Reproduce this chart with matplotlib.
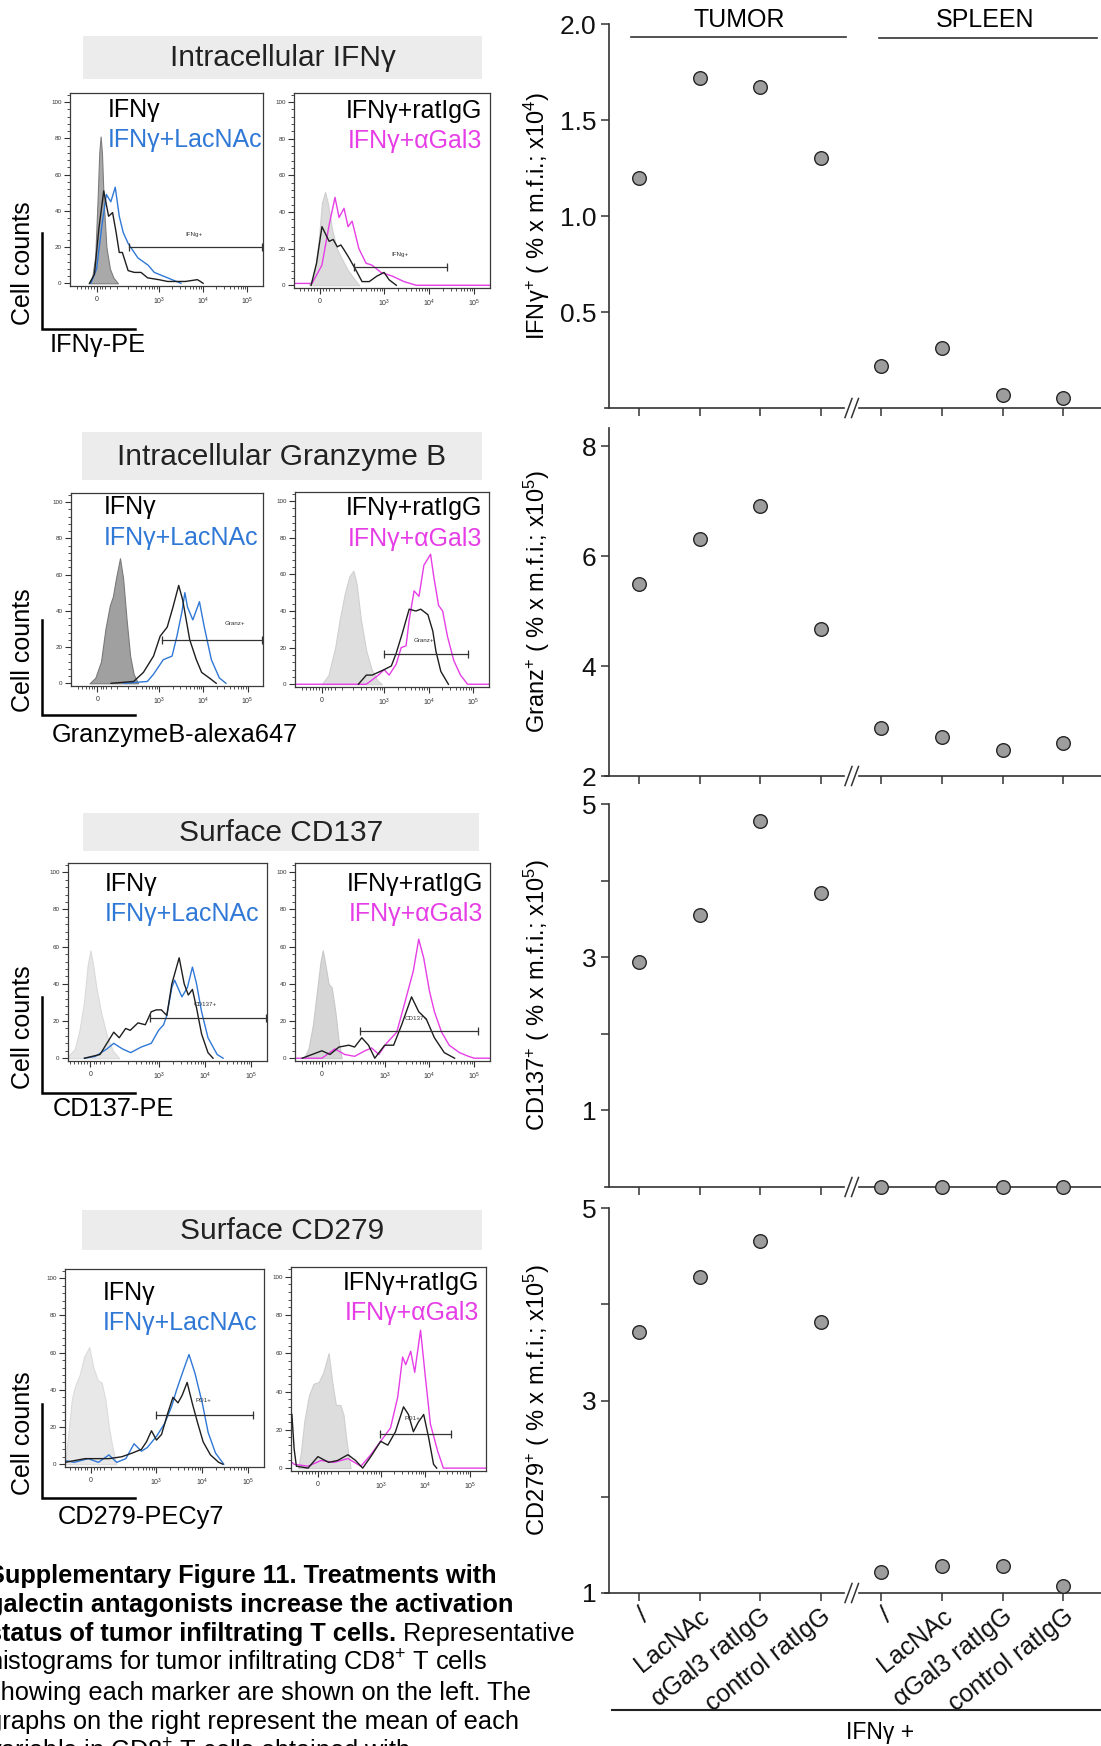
import matplotlib
matplotlib.use('Agg')
import matplotlib.pyplot as plt
from matplotlib.lines import Line2D
from matplotlib.patches import Rectangle
from matplotlib.ticker import MultipleLocator, FixedLocator
import numpy as np

plt.rcParams['font.family'] = ['Liberation Sans', 'DejaVu Sans']
plt.rcParams['mathtext.fontset'] = 'custom'
plt.rcParams['mathtext.rm'] = 'Liberation Sans'
plt.rcParams['mathtext.it'] = 'Liberation Sans:italic'
plt.rcParams['mathtext.bf'] = 'Liberation Sans:bold'

# ------------------------------------------------------------------ data
conditions = ['/', 'LacNAc', 'αGal3 ratIgG', 'control ratIgG']
groups = ['TUMOR', 'SPLEEN']

tumor_ifng = [1.20, 1.72, 1.67, 1.30]
spleen_ifng = [0.22, 0.31, 0.07, 0.05]
tumor_granz = [5.50, 6.31, 6.91, 4.68]
spleen_granz = [2.87, 2.71, 2.47, 2.60]
tumor_cd137 = [2.94, 3.55, 4.78, 3.84]
spleen_cd137 = [0.0, 0.0, 0.0, 0.0]
tumor_cd279 = [3.71, 4.28, 4.66, 3.82]
spleen_cd279 = [1.22, 1.28, 1.28, 1.07]

# histogram curves: u = display position (10^3 -> 3, 10^4 -> 4, 10^5 -> 5), c = cell counts
ifng_a_iso_u = [1.42, 1.50, 1.57, 1.62, 1.66, 1.69, 1.72, 1.76, 1.82, 1.90, 1.98, 2.08]
ifng_a_iso_c = [0, 3, 15, 45, 72, 81, 72, 45, 20, 8, 3, 0]
ifng_a_ifng_u = [1.44, 1.55, 1.65, 1.76, 1.87, 1.96, 2.04, 2.11, 2.18, 2.31, 2.45, 2.60, 2.75, 3.0, 3.2, 3.6, 3.87, 3.94, 4.0]
ifng_a_ifng_c = [0, 5, 30, 51, 37, 39, 28, 17, 17, 7, 6, 6, 3, 2, 1, 1, 2, 1, 0]
ifng_a_lac_u = [1.47, 1.60, 1.72, 1.82, 1.92, 2.02, 2.11, 2.20, 2.31, 2.53, 2.76, 2.90, 3.2, 3.5]
ifng_a_lac_c = [0, 8, 32, 49, 45, 53, 37, 28, 22, 14, 10, 6, 3, 0]

ifng_b_iso_u = [1.33, 1.45, 1.55, 1.62, 1.69, 1.75, 1.85, 1.95, 2.05, 2.2, 2.35, 2.45]
ifng_b_iso_c = [0, 5, 25, 45, 51, 45, 30, 20, 15, 8, 3, 0]
ifng_b_rat_u = [1.38, 1.50, 1.62, 1.70, 1.78, 1.87, 1.96, 2.04, 2.12, 2.22, 2.38, 2.51, 2.67, 2.84, 3.0, 3.11, 3.27]
ifng_b_rat_c = [0, 12, 32, 28, 24, 25, 21, 22, 19, 15, 8, 2, 2, 5, 7, 3, 0]
ifng_b_gal_u = [1.0, 1.40, 1.62, 1.78, 1.91, 2.0, 2.11, 2.2, 2.29, 2.44, 2.6, 2.73, 2.93, 3.18, 3.44, 3.71, 5.4]
ifng_b_gal_c = [1, 1, 11, 33, 48, 37, 42, 32, 35, 20, 12, 11, 7, 5, 2, 0, 0]

granz_a_iso_u = [1.42, 1.55, 1.68, 1.78, 1.88, 1.95, 2.02, 2.11, 2.18, 2.26, 2.34, 2.42, 2.52]
granz_a_iso_c = [0, 3, 12, 30, 43, 48, 58, 69, 58, 35, 15, 5, 0]
granz_a_ifng_u = [1.91, 2.42, 2.64, 2.87, 3.02, 3.18, 3.31, 3.44, 3.53, 3.69, 3.84, 3.96, 4.13, 4.29]
granz_a_ifng_c = [0, 1, 6, 15, 26, 31, 42, 54, 46, 24, 13, 6, 3, 0]
granz_a_lac_u = [2.2, 2.73, 2.87, 3.09, 3.29, 3.40, 3.51, 3.58, 3.64, 3.76, 3.91, 4.02, 4.18, 4.36, 4.51]
granz_a_lac_c = [0, 1, 5, 13, 15, 26, 39, 50, 42, 35, 45, 31, 13, 3, 0]

granz_b_iso_u = [1.6, 1.75, 1.9, 2.0, 2.12, 2.22, 2.31, 2.38, 2.48, 2.6, 2.72, 2.85, 2.95]
granz_b_iso_c = [0, 5, 20, 35, 50, 59, 62, 55, 35, 18, 8, 2, 0]
granz_b_rat_u = [2.42, 2.6, 2.73, 3.0, 3.16, 3.27, 3.42, 3.56, 3.71, 3.82, 3.98, 4.09, 4.16, 4.27, 4.44]
granz_b_rat_c = [0, 5, 5, 8, 10, 17, 29, 41, 40, 41, 38, 29, 18, 7, 0]
granz_b_gal_u = [1.0, 2.6, 2.87, 3.0, 3.11, 3.27, 3.38, 3.49, 3.56, 3.67, 3.78, 3.89, 4.04, 4.11, 4.22, 4.31, 4.42, 4.56, 4.71, 4.87, 5.4]
granz_b_gal_c = [0, 0, 5, 8, 5, 11, 20, 21, 35, 51, 48, 65, 71, 59, 43, 40, 26, 13, 5, 0, 0]

cd137_a_iso_u = [1.0, 1.15, 1.25, 1.35, 1.43, 1.49, 1.55, 1.62, 1.72, 1.85, 1.98, 2.12]
cd137_a_iso_c = [1, 5, 15, 30, 50, 58, 50, 38, 25, 12, 4, 0]
cd137_a_ifng_u = [1.36, 1.7, 1.85, 2.0, 2.12, 2.26, 2.36, 2.53, 2.69, 2.82, 2.93, 3.04, 3.16, 3.27, 3.43, 3.54, 3.63, 3.72, 3.81, 3.92, 4.06, 4.17]
cd137_a_ifng_c = [0, 2, 8, 14, 11, 16, 15, 19, 18, 25, 26, 26, 23, 40, 54, 40, 34, 37, 27, 13, 3, 0]
cd137_a_lac_u = [1.36, 1.6, 1.85, 2.0, 2.19, 2.37, 2.6, 2.82, 2.98, 3.09, 3.16, 3.27, 3.33, 3.49, 3.61, 3.72, 3.81, 3.92, 4.06, 4.26, 4.39]
cd137_a_lac_c = [0, 1, 5, 8, 5, 3, 6, 8, 15, 18, 23, 38, 42, 33, 38, 49, 40, 25, 11, 2, 0]

cd137_b_iso_u = [1.2, 1.3, 1.4, 1.5, 1.57, 1.62, 1.68, 1.75, 1.82, 1.9, 1.97, 2.04]
cd137_b_iso_c = [0, 5, 18, 38, 52, 58, 50, 40, 38, 25, 10, 0]
cd137_b_rat_u = [1.16, 1.38, 1.6, 1.78, 1.98, 2.2, 2.33, 2.49, 2.64, 2.78, 3.0, 3.2, 3.38, 3.6, 3.76, 3.93, 4.11, 4.33, 4.56]
cd137_b_rat_c = [0, 2, 4, 2, 6, 7, 6, 11, 7, 0, 7, 7, 18, 33, 25, 21, 11, 3, 0]
cd137_b_gal_u = [1.0, 1.6, 1.89, 2.11, 2.33, 2.56, 2.71, 2.87, 3.04, 3.27, 3.44, 3.64, 3.76, 3.87, 4.0, 4.11, 4.27, 4.44, 4.67, 4.87, 5.0, 5.4]
cd137_b_gal_c = [0, 0, 5, 2, 1, 4, 5.5, 2, 8, 14, 29, 47, 64, 54, 36, 25, 14, 7, 3, 1, 0, 0]

cd279_a_iso_u = [1.0, 1.08, 1.15, 1.22, 1.32, 1.42, 1.53, 1.62, 1.72, 1.80, 1.88, 1.96, 2.03, 2.12]
cd279_a_iso_c = [0, 18, 35, 42, 48, 58, 63, 52, 45, 44, 35, 20, 10, 0]
cd279_a_ifng_u = [1.0, 1.44, 1.96, 2.24, 2.47, 2.67, 2.78, 2.89, 3.0, 3.11, 3.24, 3.36, 3.47, 3.56, 3.67, 3.78, 3.89, 4.02, 4.18, 4.36, 4.45]
cd279_a_ifng_c = [1, 3, 3, 4, 6, 8, 12, 18, 13, 16, 27, 36, 33, 37, 44, 33, 23, 12, 5, 1, 0]
cd279_a_lac_u = [1.0, 1.2, 1.51, 1.73, 1.96, 2.13, 2.33, 2.51, 2.67, 2.8, 3.0, 3.18, 3.33, 3.44, 3.58, 3.71, 3.84, 4.0, 4.13, 4.29, 4.47]
cd279_a_lac_c = [2, 1, 3, 1, 5, 1, 3, 11, 7, 9, 15, 22, 31, 40, 50, 59, 49, 33, 17, 6, 0]

cd279_b_iso_u = [1.16, 1.22, 1.3, 1.4, 1.5, 1.62, 1.72, 1.84, 1.92, 2.0, 2.1, 2.17, 2.25, 2.33]
cd279_b_iso_c = [0, 8, 25, 38, 44, 45, 50, 60, 45, 33, 33, 28, 12, 0]
cd279_b_rat_u = [1.02, 1.07, 1.12, 1.38, 1.6, 1.84, 2.04, 2.27, 2.44, 2.6, 2.78, 3.0, 3.16, 3.33, 3.51, 3.62, 3.73, 3.84, 3.96, 4.07, 4.18, 4.25]
cd279_b_rat_c = [28, 10, 1, 0, 6, 3, 4, 7, 4, 0, 6, 14, 12, 19, 32, 28, 19, 24, 28, 16, 2, 0]
cd279_b_gal_u = [1.02, 1.07, 1.38, 1.67, 1.96, 2.27, 2.56, 2.78, 3.0, 3.22, 3.38, 3.49, 3.56, 3.67, 3.76, 3.89, 4.0, 4.11, 4.27, 4.4, 5.4]
cd279_b_gal_c = [3, 2, 1, 4, 3, 5, 1, 7, 14, 21, 37, 58, 54, 61, 50, 72, 47, 23, 9, 0, 0]

# gates: (start, end, level) and gate label positions
gate_names = ['IFNg+', 'Granz+', 'CD137+', 'PD1+']
gates_left = [(2.33, 5.33, 20), (3.07, 5.33, 24), (2.80, 5.33, 21.5), (3.00, 5.11, 26.5)]
gates_right = [(2.33, 4.40, 10), (3.00, 4.89, 16.5), (2.44, 5.09, 14.6), (2.98, 4.58, 18)]
gate_lbl_left = [(3.80, 27), (4.71, 33), (4.00, 29), (4.02, 34)]
gate_lbl_right = [(3.36, 17), (3.89, 24), (3.71, 21.5), (3.71, 26)]

hist_titles = ['Intracellular IFNγ', 'Intracellular Granzyme B', 'Surface CD137', 'Surface CD279']
hist_xlabels = ['IFNγ-PE', 'GranzymeB-alexa647', 'CD137-PE', 'CD279-PECy7']
legend_left = ['IFNγ', 'IFNγ+LacNAc']
legend_right = ['IFNγ+ratIgG', 'IFNγ+αGal3']
xtick_pos = [3, 4, 5]
xtick_lbl = ['$10^{3}$', '$10^{4}$', '$10^{5}$']
ytick_pos = [0, 20, 40, 60, 80, 100]

# ------------------------------------------------------------------ figure
W, H = 1101, 1746
fig = plt.figure(figsize=(W / 100, H / 100), dpi=100)


def px_axes(x0, y0, x1, y1):
    return fig.add_axes([x0 / W, 1 - y1 / H, (x1 - x0) / W, (y1 - y0) / H])


def ftext(x, y, s, **kw):
    return fig.text(x / W, 1 - y / H, s, **kw)


def fline(xs, ys, **kw):
    fig.add_artist(Line2D([x / W for x in xs], [1 - y / H for y in ys], **kw))


BLACK = '#1e1e1e'
BLUE = '#2f78d6'
MAG = '#e63ee6'

curves = [
    [(ifng_a_iso_u, ifng_a_iso_c), (ifng_a_ifng_u, ifng_a_ifng_c), (ifng_a_lac_u, ifng_a_lac_c),
     (ifng_b_iso_u, ifng_b_iso_c), (ifng_b_rat_u, ifng_b_rat_c), (ifng_b_gal_u, ifng_b_gal_c)],
    [(granz_a_iso_u, granz_a_iso_c), (granz_a_ifng_u, granz_a_ifng_c), (granz_a_lac_u, granz_a_lac_c),
     (granz_b_iso_u, granz_b_iso_c), (granz_b_rat_u, granz_b_rat_c), (granz_b_gal_u, granz_b_gal_c)],
    [(cd137_a_iso_u, cd137_a_iso_c), (cd137_a_ifng_u, cd137_a_ifng_c), (cd137_a_lac_u, cd137_a_lac_c),
     (cd137_b_iso_u, cd137_b_iso_c), (cd137_b_rat_u, cd137_b_rat_c), (cd137_b_gal_u, cd137_b_gal_c)],
    [(cd279_a_iso_u, cd279_a_iso_c), (cd279_a_ifng_u, cd279_a_ifng_c), (cd279_a_lac_u, cd279_a_lac_c),
     (cd279_b_iso_u, cd279_b_iso_c), (cd279_b_rat_u, cd279_b_rat_c), (cd279_b_gal_u, cd279_b_gal_c)],
]

# layout of histogram groups (pixels)
hist_layout = [
    dict(title=(83, 36, 482, 79), left=(70, 93, 263, 286), right=(294, 93, 490, 288), zero=(1.60, 1.58),
         counts_y=263, lline=(233, 329), xlab_y=345, xlab_x=50,
         legL=(108, 110, 140), legR=(482, 111, 141), iso=[('#a9a9a9', '#7d7d7d'), ('#dcdcdc', '#cfcfcf')]),
    dict(title=(82, 432, 482, 480), left=(71, 493, 263, 686), right=(295, 492, 489, 687), zero=(1.60, 1.60),
         counts_y=650, lline=(620, 715), xlab_y=735, xlab_x=52,
         legL=(104, 507, 538), legR=(482, 508, 539), iso=[('#a0a0a0', '#7a7a7a'), ('#dedede', '#d0d0d0')]),
    dict(title=(83, 813, 479, 851), left=(68, 863, 267, 1061), right=(295, 863, 490, 1061), zero=(1.49, 1.60),
         counts_y=1027, lline=(997, 1093), xlab_y=1109, xlab_x=53,
         legL=(105, 884, 914), legR=(483, 884, 914), iso=[('#e6e6e6', '#dadada'), ('#d6d6d6', '#c8c8c8')]),
    dict(title=(82, 1210, 482, 1250), left=(65, 1269, 264, 1467), right=(291, 1267, 486, 1471), zero=(1.56, 1.60),
         counts_y=1433, lline=(1404, 1498), xlab_y=1517, xlab_x=58,
         legL=(103, 1293, 1323), legR=(479, 1283, 1313), iso=[('#e8e8e8', '#dcdcdc'), ('#dddddd', '#cfcfcf')]),
]


def style_hist(ax, zero_u):
    ax.set_xlim(1.0, 5.35)
    ax.set_ylim(-1.5, 105)
    for s in ax.spines.values():
        s.set_color('#3a3a3a')
        s.set_linewidth(0.9)
    ax.set_xticks([zero_u] + xtick_pos)
    ax.set_xticklabels(['0'] + xtick_lbl)
    minors = [zero_u + d for d in (-0.45, -0.35, -0.27, -0.2, -0.13, -0.07, 0.07, 0.13, 0.2, 0.3, 0.45)]
    for k in (2, 3, 4):
        for m in range(2, 10):
            v = k + np.log10(m)
            if v > zero_u + 0.5:
                minors.append(v)
    ax.xaxis.set_minor_locator(FixedLocator(minors))
    ax.set_yticks(ytick_pos)
    ax.yaxis.set_minor_locator(MultipleLocator(4))
    ax.tick_params(which='major', direction='out', length=4, width=0.8, labelsize=4.5, pad=2, colors='#333')
    ax.tick_params(which='minor', direction='out', length=2, width=0.6, colors='#333')
    ax.tick_params(axis='x', labelsize=5, pad=3)


for gi, lay in enumerate(hist_layout):
    # title banner
    x0, y0, x1, y1 = lay['title']
    fig.add_artist(Rectangle((x0 / W, 1 - y1 / H), (x1 - x0) / W, (y1 - y0) / H,
                             transform=fig.transFigure, facecolor='#ececec', edgecolor='none'))
    ftext((x0 + x1) / 2, (y0 + y1) / 2 + 1, hist_titles[gi], ha='center', va='center',
          fontsize=21.5, color='#222')

    cv = curves[gi]
    # left histogram
    axL = px_axes(*lay['left'])
    style_hist(axL, lay['zero'][0])
    fcol, ecol = lay['iso'][0]
    axL.fill_between(cv[0][0], cv[0][1], color=fcol, edgecolor=ecol, lw=0.8, zorder=1)
    axL.plot(cv[1][0], cv[1][1], color=BLACK, lw=1.0, zorder=3)
    axL.plot(cv[2][0], cv[2][1], color=BLUE, lw=1.0, zorder=2)
    g0, g1, lv = gates_left[gi]
    axL.plot([g0, g1], [lv, lv], color='#333', lw=0.9, zorder=4, marker='|', ms=6, mew=0.9, clip_on=False)
    axL.text(gate_lbl_left[gi][0], gate_lbl_left[gi][1], gate_names[gi], fontsize=4.5, ha='center',
             va='center', color='#333')

    # right histogram
    axR = px_axes(*lay['right'])
    style_hist(axR, lay['zero'][1])
    fcol, ecol = lay['iso'][1]
    axR.fill_between(cv[3][0], cv[3][1], color=fcol, edgecolor=ecol, lw=0.8, zorder=1)
    axR.plot(cv[4][0], cv[4][1], color=BLACK, lw=1.0, zorder=3)
    axR.plot(cv[5][0], cv[5][1], color=MAG, lw=1.0, zorder=2)
    g0, g1, lv = gates_right[gi]
    axR.plot([g0, g1], [lv, lv], color='#333', lw=0.9, zorder=4, marker='|', ms=6, mew=0.9, clip_on=False)
    axR.text(gate_lbl_right[gi][0], gate_lbl_right[gi][1], gate_names[gi], fontsize=4.5, ha='center',
             va='center', color='#333')

    # legends
    lx, ly1, ly2 = lay['legL']
    ftext(lx, ly1, legend_left[0], ha='left', va='center', fontsize=18, color='black')
    ftext(lx, ly2, legend_left[1], ha='left', va='center', fontsize=18, color=BLUE)
    rx, ry1, ry2 = lay['legR']
    ftext(rx, ry1, legend_right[0], ha='right', va='center', fontsize=18, color='black')
    ftext(rx, ry2, legend_right[1], ha='right', va='center', fontsize=18, color=MAG)

    # cell counts label & L bracket
    ftext(23, lay['counts_y'], 'Cell counts', rotation=90, ha='center', va='center', fontsize=18)
    ya, yb = lay['lline']
    fline([42, 42, 135], [ya, yb, yb], color='black', lw=1.8, solid_joinstyle='miter')
    ftext(lay['xlab_x'], lay['xlab_y'], hist_xlabels[gi], ha='left', va='center', fontsize=18.3)

# ------------------------------------------------------------------ right panels
xpos_tumor = np.arange(4)
xpos_spleen = np.arange(4) + 4
XL = (-0.495, 7.624)
AX_L, AX_R = 609, 1101

panels = [
    dict(box=(AX_L, 24, AX_R, 408), ylim=(0, 2.0), major=[0.5, 1.0, 1.5, 2.0],
         labels=['0.5', '1.0', '1.5', '2.0'], tumor=tumor_ifng, spleen=spleen_ifng,
         ylabel='IFNγ$^{+}$ ( % x m.f.i.; x10$^{4}$)'),
    dict(box=(AX_L, 428, AX_R, 776), ylim=(2, 8.33), major=[2, 4, 6, 8],
         labels=['2', '4', '6', '8'], tumor=tumor_granz, spleen=spleen_granz,
         ylabel='Granz$^{+}$ ( % x m.f.i.; x10$^{5}$)'),
    dict(box=(AX_L, 804, AX_R, 1187), ylim=(0, 5), major=[1, 2, 3, 4, 5],
         labels=['1', '', '3', '', '5'], tumor=tumor_cd137, spleen=spleen_cd137,
         ylabel='CD137$^{+}$ ( % x m.f.i.; x10$^{5}$)'),
    dict(box=(AX_L, 1208, AX_R, 1593), ylim=(1, 5), major=[1, 2, 3, 4, 5],
         labels=['1', '', '3', '', '5'], tumor=tumor_cd279, spleen=spleen_cd279,
         ylabel='CD279$^{+}$ ( % x m.f.i.; x10$^{5}$)'),
]

for pi, p in enumerate(panels):
    x0, y0, x1, y1 = p['box']
    ax = px_axes(x0, y0, x1, y1)
    ax.set_xlim(*XL)
    ax.set_ylim(*p['ylim'])
    for s in ('top', 'right', 'bottom'):
        ax.spines[s].set_visible(False)
    ax.spines['left'].set_color('#333')
    ax.spines['left'].set_linewidth(1.2)
    ax.set_yticks(p['major'])
    ax.set_yticklabels(p['labels'])
    ax.set_xticks(np.arange(8))
    ax.tick_params(axis='both', direction='out', length=6, width=1.1, colors='#333', labelcolor='#111',
                   labelsize=19, pad=3)
    ax.plot(xpos_tumor, p['tumor'], ls='none', marker='o', ms=9.8, mfc='#9d9d9d', mec='#262626', mew=1.0,
            clip_on=False, zorder=3)
    ax.plot(xpos_spleen, p['spleen'], ls='none', marker='o', ms=9.8, mfc='#9d9d9d', mec='#262626', mew=1.0,
            clip_on=False, zorder=3)
    # broken x axis
    wpx = x1 - x0
    hpx = y1 - y0
    fx = lambda px: (px - x0) / wpx
    ax.plot([fx(605), fx(844)], [0, 0], transform=ax.transAxes, color='#333', lw=1.2, clip_on=False, zorder=2)
    ax.plot([fx(859), 1.0], [0, 0], transform=ax.transAxes, color='#333', lw=1.2, clip_on=False, zorder=2)
    for cx in (848.5, 855):
        ax.plot([fx(cx - 3.5), fx(cx + 3.5)], [-9.5 / hpx, 9.5 / hpx], transform=ax.transAxes,
                color='#333', lw=1.1, clip_on=False)
    ax.set_ylabel(p['ylabel'], fontsize=17)
    ax.yaxis.set_label_coords(fx(552), 0.5)
    if pi < 3:
        ax.set_xticklabels([])
    else:
        ax.set_xticklabels(conditions * 2, rotation=38, ha='right', rotation_mode='anchor', fontsize=18)
        ax.tick_params(axis='x', pad=2, labelsize=18)

# TUMOR / SPLEEN headers
ftext(739, 20, groups[0], ha='center', va='center', fontsize=18)
fline([631, 846], [37, 37], color='#333', lw=1.2)
ftext(985, 20, groups[1], ha='center', va='center', fontsize=18)
fline([879, 1097], [38, 38], color='#333', lw=1.2)

# IFNγ + bracket at bottom
fline([612, 1101], [1710, 1710], color='#222', lw=1.5)
ftext(880, 1733, 'IFNγ +', ha='center', va='center', fontsize=16.5)

# ------------------------------------------------------------------ caption
cap_x = -12
cap_fs = 18.3
bold_lines = ['Supplementary Figure 11. Treatments with',
              'galectin antagonists increase the activation',
              'status of tumor infiltrating T cells.']
reg_lines = ['histograms for tumor infiltrating CD8$^{+}$ T cells',
             'showing each marker are shown on the left. The',
             'graphs on the right represent the mean of each',
             'variable in CD8$^{+}$ T cells obtained with']
baselines = [1583, 1612, 1641, 1671, 1700, 1729, 1760]
t3 = None
for i, s in enumerate(bold_lines):
    t = ftext(cap_x, baselines[i], s, ha='left', va='baseline', fontsize=cap_fs, fontweight='bold')
    if i == 2:
        t3 = t
renderer = fig.canvas.get_renderer()
bb = t3.get_window_extent(renderer=renderer)
fig.text(bb.x1 / fig.bbox.width, 1 - baselines[2] / H, ' Representative', ha='left', va='baseline',
         fontsize=cap_fs)
for i, s in enumerate(reg_lines):
    ftext(cap_x, baselines[3 + i], s, ha='left', va='baseline', fontsize=cap_fs)

fig.savefig('out.png', dpi=100)
